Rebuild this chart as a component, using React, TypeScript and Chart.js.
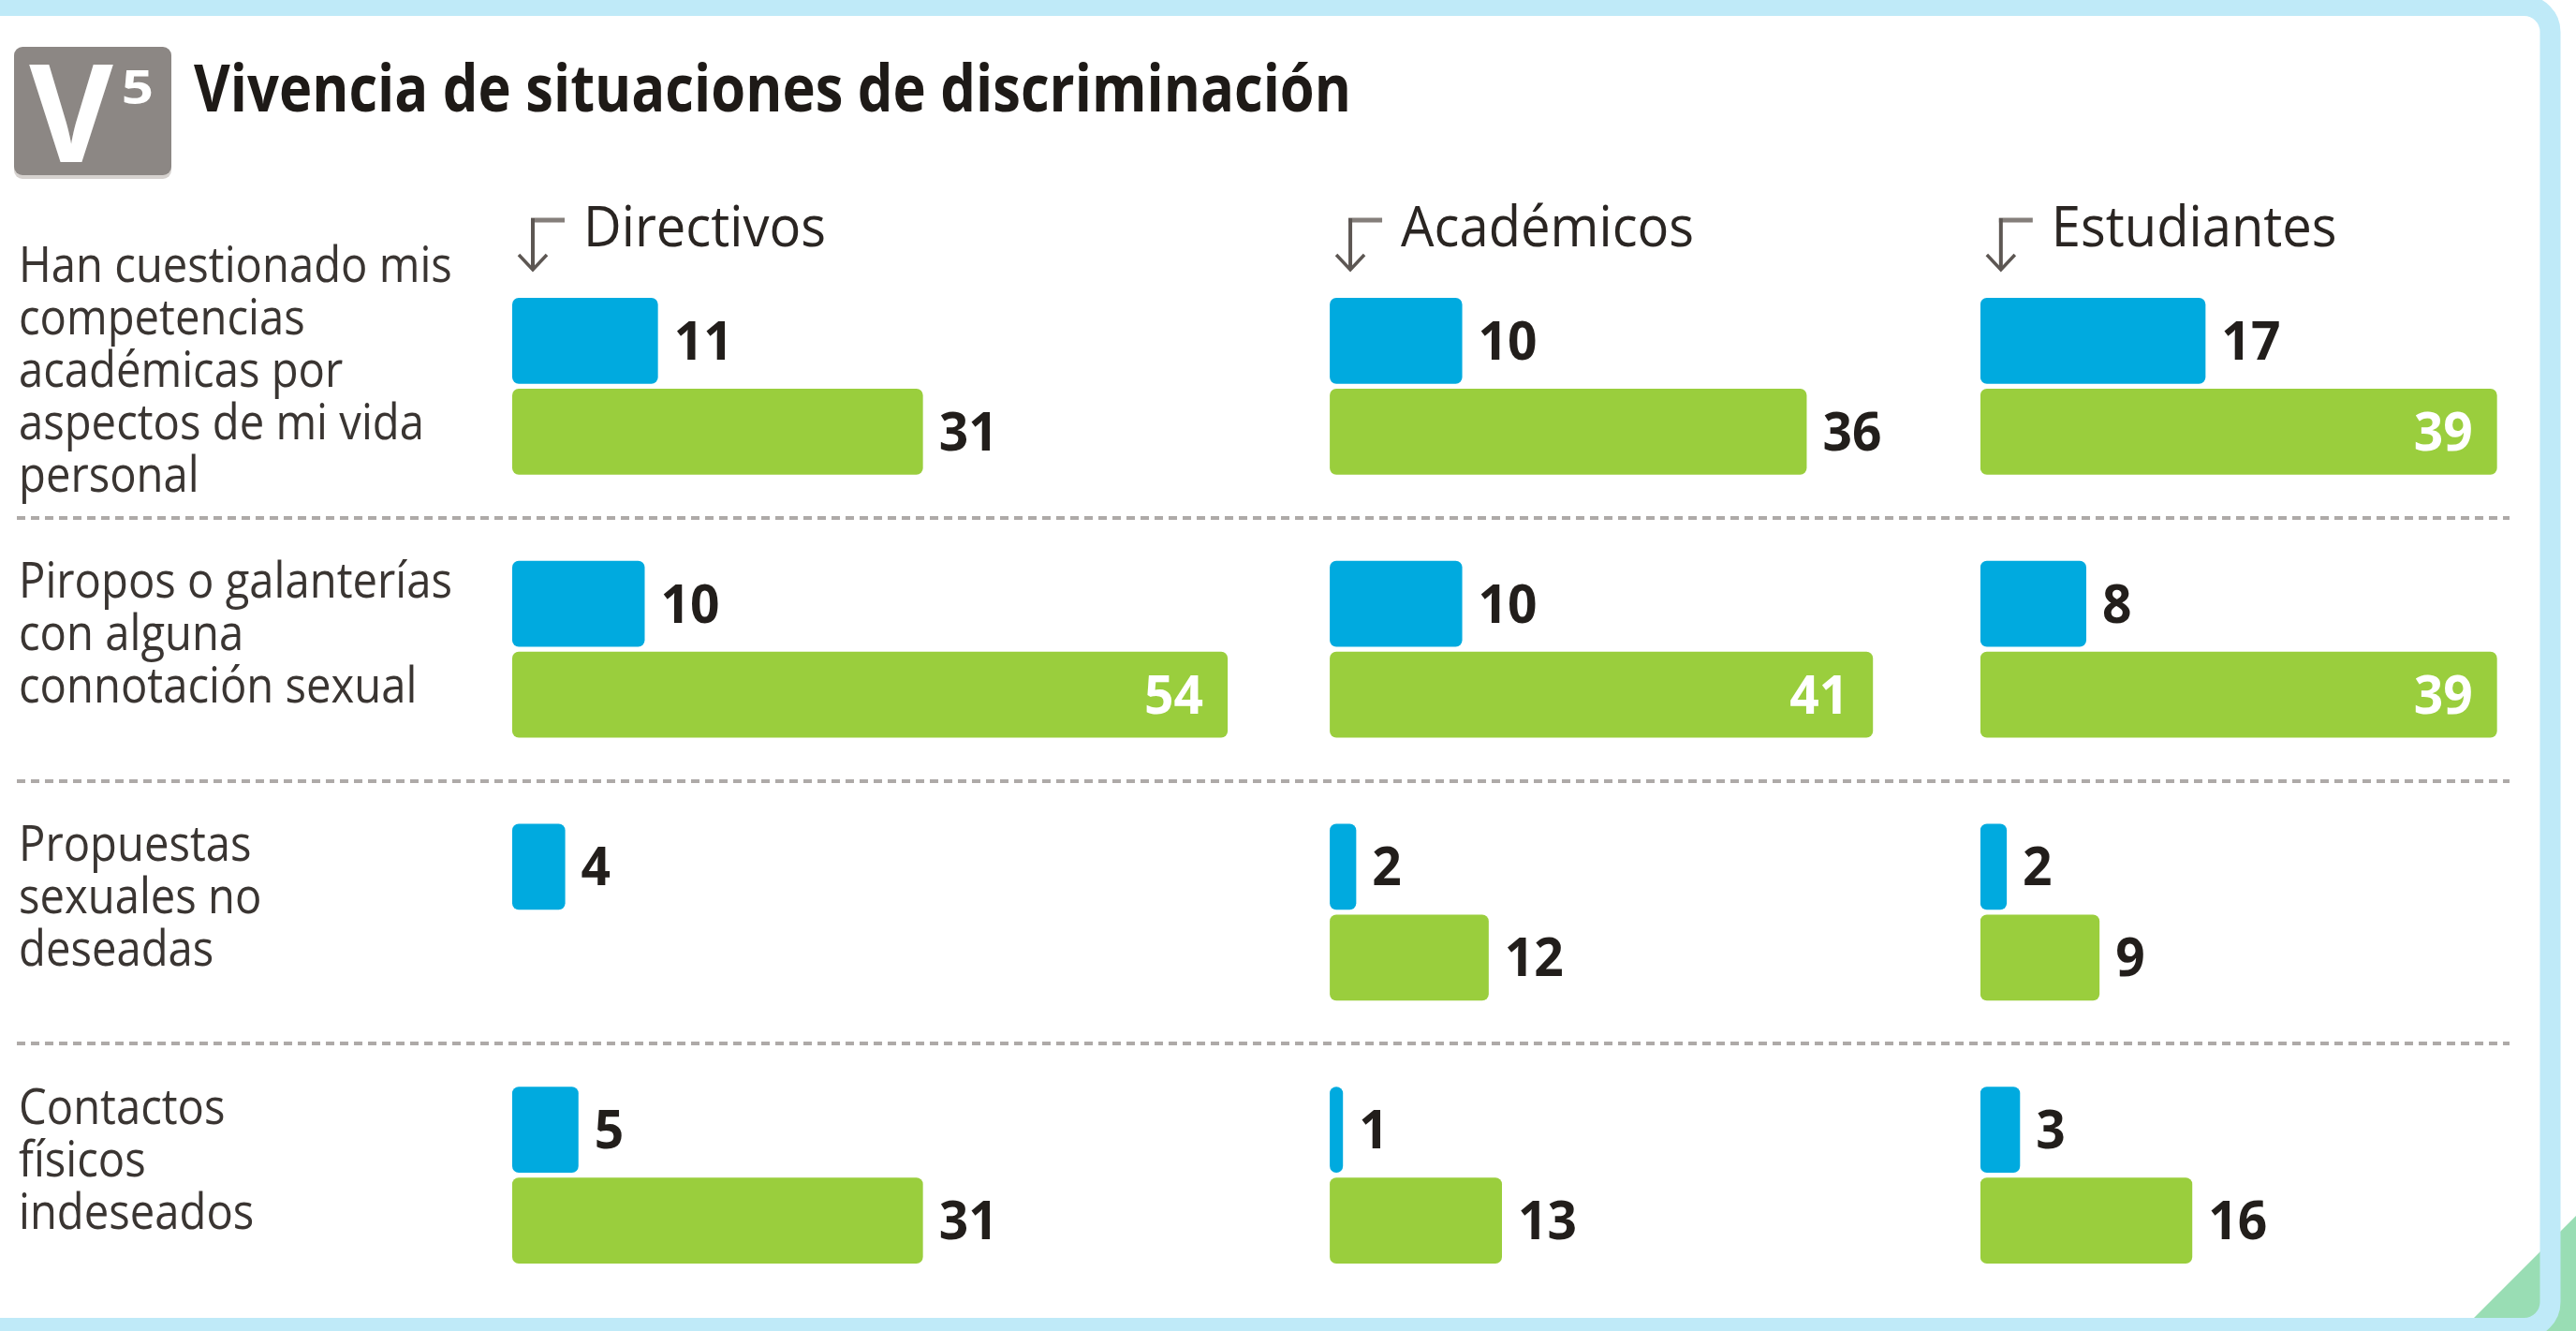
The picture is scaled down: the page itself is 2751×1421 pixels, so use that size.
import React, { useEffect, useRef } from "react";
import { Chart, registerables } from "chart.js";

Chart.register(...registerables);

// ---------- data ----------
const TITLE = "Vivencia de situaciones de discriminación";
const BADGE_LETTER = "V";
const BADGE_NUMBER = "5";
const GROUPS = ["Directivos", "Académicos", "Estudiantes"];
const ROW_LABELS: string[][] = [
  ["Han cuestionado mis", "competencias", "académicas por", "aspectos de mi vida", "personal"],
  ["Piropos o galanterías", "con alguna", "connotación sexual"],
  ["Propuestas", "sexuales no", "deseadas"],
  ["Contactos", "físicos", "indeseados"],
];
const BLUE_DIRECTIVOS = [11, 10, 4, 5];
const GREEN_DIRECTIVOS: (number | null)[] = [31, 54, null, 31];
const BLUE_ACADEMICOS = [10, 10, 2, 1];
const GREEN_ACADEMICOS = [36, 41, 12, 13];
const BLUE_ESTUDIANTES = [17, 8, 2, 3];
const GREEN_ESTUDIANTES = [39, 39, 9, 16];
const INSIDE_MIN = 39; // values drawn inside the bar in white

// ---------- style / layout ----------
const W = 2751;
const H = 1421;
const BLUE = "#00aadf";
const GREEN = "#9ace3d";
const TEXT_DARK = "#221e1b";
const LABEL_COLOR = "#3a3532";
const FONT = "'Open Sans', 'Noto Sans', sans-serif";
const AXIS_MAX = [61.7, 49.1, 40]; // column widths in value units
const AXIS_IDS = ["x1", "x2", "x3"];
const AREA_RIGHT = 547 + (61.7 + 49.1 + 40) * 14.15;

function drawText(
  ctx: CanvasRenderingContext2D,
  text: string,
  x: number,
  y: number,
  font: string,
  color: string,
  sx: number,
  align: CanvasTextAlign = "left"
) {
  ctx.save();
  ctx.font = font;
  ctx.fillStyle = color;
  ctx.textAlign = align;
  ctx.textBaseline = "alphabetic";
  ctx.translate(x, y);
  ctx.scale(sx, 1);
  ctx.fillText(text, 0, 0);
  ctx.restore();
}

function fitScale(ctx: CanvasRenderingContext2D, font: string, text: string, width: number) {
  ctx.save();
  ctx.font = font;
  const w = ctx.measureText(text).width;
  ctx.restore();
  return w > 0 ? width / w : 1;
}

const decorPlugin = {
  id: "decor",
  beforeDraw(chart: any) {
    const ctx: CanvasRenderingContext2D = chart.ctx;
    ctx.save();
    ctx.fillStyle = "#ffffff";
    ctx.fillRect(0, 0, W, H);
    ctx.restore();
  },
  afterDraw(chart: any) {
    const ctx: CanvasRenderingContext2D = chart.ctx;
    const yScale = chart.scales.y;

    // separators between rows
    ctx.save();
    ctx.strokeStyle = "#aeaaa8";
    ctx.lineWidth = 4;
    ctx.setLineDash([9, 6]);
    for (let i = 0; i < ROW_LABELS.length - 1; i++) {
      const yy = Math.round((yScale.getPixelForValue(i) + yScale.getPixelForValue(i + 1)) / 2);
      ctx.beginPath();
      ctx.moveTo(18, yy);
      ctx.lineTo(2680, yy);
      ctx.stroke();
    }
    ctx.restore();

    // row labels
    const labelFont = `400 53px ${FONT}`;
    const sxLabel = fitScale(ctx, labelFont, ROW_LABELS[1][0], 463);
    ROW_LABELS.forEach((lines, i) => {
      const cy = yScale.getPixelForValue(i);
      const n = lines.length;
      lines.forEach((line, k) => {
        const by = cy + (k - (n - 1) / 2) * 56 + 1;
        drawText(ctx, line, 20, by, labelFont, LABEL_COLOR, sxLabel);
      });
    });

    // column headers with arrow icon
    const headFont = `400 60px ${FONT}`;
    const sxHead = fitScale(ctx, headFont, GROUPS[0], 259);
    AXIS_IDS.forEach((id, gi) => {
      const o = chart.scales[id].getPixelForValue(0);
      ctx.save();
      ctx.lineCap = "butt";
      ctx.strokeStyle = "#857f7b";
      ctx.lineWidth = 5;
      ctx.beginPath();
      ctx.moveTo(o + 20, 235);
      ctx.lineTo(o + 56, 235);
      ctx.stroke();
      ctx.strokeStyle = "#5d5753";
      ctx.lineWidth = 4;
      ctx.beginPath();
      ctx.moveTo(o + 22, 233);
      ctx.lineTo(o + 22, 287);
      ctx.stroke();
      ctx.lineWidth = 3.5;
      ctx.beginPath();
      ctx.moveTo(o + 7, 272);
      ctx.lineTo(o + 22, 288);
      ctx.lineTo(o + 37, 272);
      ctx.stroke();
      ctx.restore();
      drawText(ctx, GROUPS[gi], o + 76, 263, headFont, "#2a2522", sxHead);
    });

    // value labels
    const valFont = `700 58px ${FONT}`;
    chart.data.datasets.forEach((ds: any, di: number) => {
      const meta = chart.getDatasetMeta(di);
      meta.data.forEach((el: any, i: number) => {
        const v = ds.data[i];
        if (v === null || v === undefined) return;
        const by = el.y + 20;
        if (v >= INSIDE_MIN) {
          drawText(ctx, String(v), el.x - 26, by, valFont, "#ffffff", 0.95, "right");
        } else {
          drawText(ctx, String(v), el.x + 17, by, valFont, TEXT_DARK, 0.95, "left");
        }
      });
    });

    // title + badge
    ctx.save();
    ctx.fillStyle = "#d6d2cf";
    ctx.beginPath();
    (ctx as any).roundRect(15, 54, 168, 137, 9);
    ctx.fill();
    ctx.fillStyle = "#8c8784";
    ctx.beginPath();
    (ctx as any).roundRect(15, 50, 168, 137, 9);
    ctx.fill();
    ctx.restore();
    drawText(ctx, BADGE_LETTER, 76, 173, `700 145px ${FONT}`, "#ffffff", 0.95, "center");
    drawText(ctx, BADGE_NUMBER, 147, 111, `700 50px ${FONT}`, "#ffffff", 1.2, "center");
    const titleFont = `700 70px ${FONT}`;
    const sxTitle = fitScale(ctx, titleFont, TITLE, 1236);
    drawText(ctx, TITLE, 207, 119, titleFont, "#1e1a17", sxTitle);

    // frame and corner decoration
    ctx.save();
    ctx.fillStyle = "#99ddb4";
    ctx.beginPath();
    ctx.moveTo(2628, H);
    ctx.lineTo(W, 1298);
    ctx.lineTo(W, H);
    ctx.closePath();
    ctx.fill();
    ctx.strokeStyle = "#bfeaf8";
    ctx.lineWidth = 22;
    ctx.beginPath();
    (ctx as any).roundRect(-40, 6, 2723.5 + 40, 1412, 28);
    ctx.stroke();
    ctx.restore();
  },
};

function makeDataset(label: string, data: (number | null)[], axis: string, stack: string, color: string) {
  return {
    label,
    data,
    xAxisID: axis,
    yAxisID: "y",
    stack,
    backgroundColor: color,
    borderWidth: 0,
    borderRadius: 7,
    borderSkipped: false,
    categoryPercentage: 0.69,
    barPercentage: 0.948,
  };
}

export default function App() {
  const ref = useRef<HTMLCanvasElement>(null);
  useEffect(() => {
    const canvas = ref.current;
    if (!canvas) return;
    const xScale = (i: number) => ({
      type: "linear",
      position: "bottom",
      stack: "columns",
      stackWeight: AXIS_MAX[i],
      min: 0,
      max: AXIS_MAX[i],
      stacked: false,
      display: false,
    });
    const chart = new Chart(canvas, {
      type: "bar",
      data: {
        labels: ROW_LABELS.map((l) => l.join(" ")),
        datasets: [
          makeDataset(`${GROUPS[0]} azul`, BLUE_DIRECTIVOS, "x1", "blue", BLUE),
          makeDataset(`${GROUPS[0]} verde`, GREEN_DIRECTIVOS, "x1", "green", GREEN),
          makeDataset(`${GROUPS[1]} azul`, BLUE_ACADEMICOS, "x2", "blue", BLUE),
          makeDataset(`${GROUPS[1]} verde`, GREEN_ACADEMICOS, "x2", "green", GREEN),
          makeDataset(`${GROUPS[2]} azul`, BLUE_ESTUDIANTES, "x3", "blue", BLUE),
          makeDataset(`${GROUPS[2]} verde`, GREEN_ESTUDIANTES, "x3", "green", GREEN),
        ] as any,
      },
      options: {
        indexAxis: "y",
        responsive: false,
        animation: false,
        devicePixelRatio: 1,
        layout: { padding: { left: 547, right: W - AREA_RIGHT, top: 272, bottom: H - 1395 } },
        plugins: { legend: { display: false }, tooltip: { enabled: false }, title: { display: false } },
        scales: {
          y: { type: "category", display: false, offset: true, grid: { display: false } },
          x1: xScale(0),
          x2: xScale(1),
          x3: xScale(2),
        } as any,
      },
      plugins: [decorPlugin],
    } as any);
    return () => chart.destroy();
  }, []);
  return (
    <div style={{ position: "fixed", left: 0, top: 0, width: W, height: H, background: "#fff" }}>
      <canvas ref={ref} width={W} height={H} style={{ display: "block", width: W, height: H }} />
    </div>
  );
}
